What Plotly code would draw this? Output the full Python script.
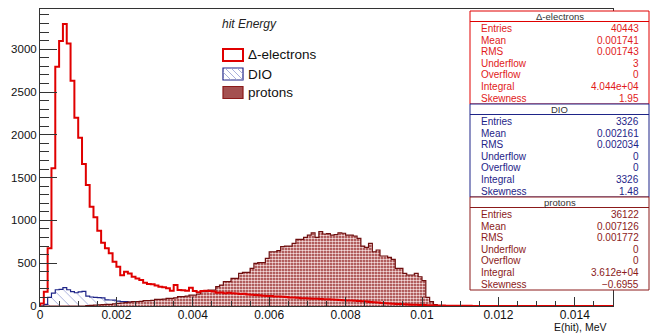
import numpy as np
import plotly.graph_objects as go

# ---------------- data ----------------
bin_width = 0.0001
n_bins = 150

electrons = [30, 167, 674, 1608, 2795, 3095, 3294, 3068, 2632, 2200,
             1966, 1659, 1413, 1160, 1036, 880, 740, 674, 615, 518,
             459, 360, 400, 380, 342, 320, 304, 272, 257, 253,
             240, 226, 218, 206, 179, 245, 187, 183, 179, 214,
             175, 160, 175, 179, 175, 170, 156, 158, 150, 154,
             148, 145, 140, 142, 135, 130, 128, 125, 120, 118,
             117, 112, 110, 108, 104, 100, 98, 95, 92, 90,
             88, 86, 84, 82, 80, 78, 75, 72, 70, 68,
             65, 63, 60, 58, 55, 52, 48, 45, 40, 36,
             32, 30, 27, 24, 22, 20, 18, 16, 14, 13,
             12, 10, 8, 7, 6, 5, 4, 4, 3, 3,
             2, 2, 2, 1, 1, 1, 0, 0, 0, 0,
             0, 0, 0, 0, 0, 0, 0, 0, 0, 0,
             0, 0, 0, 0, 0, 0, 0, 0, 0, 0,
             0, 0, 0, 0, 0, 0, 0, 0, 0, 0]

dio = [0, 20, 100, 150, 190, 195, 215, 190, 167, 155,
       165, 172, 115, 105, 100, 97, 95, 72, 70, 68,
       58, 52, 50, 45, 42, 40, 38, 36, 34, 32,
       30, 28, 27, 26, 24, 23, 22, 20, 19, 18,
       17, 16, 15, 14, 13, 12, 12, 11, 10, 10,
       9, 9, 8, 8, 7, 7, 6, 6, 6, 5,
       5, 5, 4, 4, 4, 4, 3, 3, 3, 3,
       3, 2, 2, 2, 2, 2, 2, 1, 1, 1,
       1, 1, 1, 1, 1, 1, 1, 1, 1, 1,
       1, 1, 1, 1, 1, 1, 1, 1, 1, 1,
       1, 0, 0, 0, 0, 0, 0, 0, 0, 0,
       0, 0, 0, 0, 0, 0, 0, 0, 0, 0,
       0, 0, 0, 0, 0, 0, 0, 0, 0, 0,
       0, 0, 0, 0, 0, 0, 0, 0, 0, 0,
       0, 0, 0, 0, 0, 0, 0, 0, 0, 0]

protons = [0, 0, 0, 0, 0, 0, 0, 0, 0, 0,
           0, 0, 5, 8, 10, 12, 15, 18, 20, 25,
           30, 35, 40, 45, 50, 50, 55, 62, 62, 65,
           78, 78, 80, 90, 90, 95, 109, 109, 115, 128,
           128, 140, 167, 167, 187, 187, 226, 245, 284, 284,
           323, 323, 381, 393, 393, 440, 498, 506, 506, 557,
           634, 634, 646, 693, 700, 700, 732, 779, 779, 802,
           829, 856, 802, 868, 841, 845, 829, 835, 856, 850,
           829, 829, 818, 791, 700, 685, 732, 634, 654, 584,
           584, 568, 545, 440, 440, 381, 362, 362, 381, 342,
           296, 101, 50, 15, 5, 0, 0, 0, 0, 0,
           0, 0, 0, 0, 0, 0, 0, 0, 0, 0,
           0, 0, 0, 0, 0, 0, 0, 0, 0, 0,
           0, 0, 0, 0, 0, 0, 0, 0, 0, 0,
           0, 0, 0, 0, 0, 0, 0, 0, 0, 0]

series_names = ["Δ-electrons", "DIO", "protons"]
stat_labels = ["Entries", "Mean", "RMS", "Underflow", "Overflow", "Integral", "Skewness"]
stats_electrons = ["40443", "0.001741", "0.001743", "3", "0", "4.044e+04", "1.95"]
stats_dio = ["3326", "0.002161", "0.002034", "0", "0", "3326", "1.48"]
stats_protons = ["36122", "0.007126", "0.001772", "0", "0", "3.612e+04", "\u22120.6955"]

x_range = [0, 0.015]
y_range = [0, 3470]

# ---------------- style ----------------
RED = "#e00000"
NAVY = "#1e2488"
DRED = "#8b1a1a"
FONT = "Liberation Sans"
W, H = 652, 333
L, R, T, B = 40, 613, 9, 306   # plot frame in pixels


def px(xp):
    return (xp - L) / (R - L)


def py(yp):
    return (B - yp) / (B - T)


edges = np.arange(n_bins + 1) * bin_width


def step(vals):
    v = np.asarray(vals, float)
    x = np.concatenate([[edges[0]], edges[:-1], [edges[-1], edges[-1]]])
    y = np.concatenate([[0.0], v, [v[-1], 0.0]])
    return x, y


fig = go.Figure()

xd, yd = step(dio)
fig.add_trace(go.Scatter(x=xd, y=yd, mode="lines", line=dict(color=NAVY, width=1.2, shape="hv"),
                         fill="tozeroy", fillcolor="white",
                         fillpattern=dict(shape="\\", fgcolor="#a9b0dc", bgcolor="white",
                                          size=7, solidity=0.14, fillmode="replace"),
                         name=series_names[1], showlegend=False, hoverinfo="skip"))

xp, yp = step(protons)
fig.add_trace(go.Scatter(x=xp, y=yp, mode="lines", line=dict(color="#6e0f0f", width=1.2, shape="hv"),
                         fill="tozeroy", fillcolor=DRED,
                         fillpattern=dict(shape=".", fgcolor="#f4dcdc", bgcolor="#962a2a",
                                          size=3, solidity=0.55, fillmode="replace"),
                         name=series_names[2], showlegend=False, hoverinfo="skip"))

xe, ye = step(electrons)
fig.add_trace(go.Scatter(x=xe, y=ye, mode="lines", line=dict(color=RED, width=2, shape="hv"),
                         name=series_names[0], showlegend=False, hoverinfo="skip"))

shapes = []
annotations = []

# ---------------- stats boxes ----------------
box_left, box_right = 470, 649
boxes = [(series_names[0], stats_electrons, RED, "#e11a1a", 11, 104),
         (series_names[1], stats_dio, NAVY, NAVY, 104, 197),
         (series_names[2], stats_protons, DRED, DRED, 197, 290)]
for title, vals, col, tcol, top, bot in boxes:
    shapes.append(dict(type="rect", xref="paper", yref="paper",
                       x0=px(box_left), x1=px(box_right), y0=py(bot), y1=py(top),
                       fillcolor="white", line=dict(color=col, width=1), layer="above"))
    shapes.append(dict(type="line", xref="paper", yref="paper",
                       x0=px(box_left), x1=px(box_right), y0=py(top + 10.5), y1=py(top + 10.5),
                       line=dict(color=col, width=1), layer="above"))
    annotations.append(dict(xref="paper", yref="paper", x=px((box_left + box_right) / 2),
                            y=py(top + 5.5), text=title, showarrow=False, xanchor="center",
                            yanchor="middle", font=dict(family=FONT, size=9.5, color="#333333")))
    for i, (lab, val) in enumerate(zip(stat_labels, vals)):
        yy = top + 17.5 + i * 11.6
        annotations.append(dict(xref="paper", yref="paper", x=px(479), y=py(yy), text=lab,
                                showarrow=False, xanchor="left", yanchor="middle",
                                font=dict(family=FONT, size=10, color=tcol)))
        annotations.append(dict(xref="paper", yref="paper", x=px(641), y=py(yy), text=val,
                                showarrow=False, xanchor="right", yanchor="middle",
                                font=dict(family=FONT, size=10, color=tcol)))

# ---------------- legend ----------------
annotations.append(dict(xref="paper", yref="paper", x=px(220), y=py(24), text="<i>hit Energy</i>",
                        showarrow=False, xanchor="left", yanchor="middle",
                        font=dict(family=FONT, size=12, color="#222222")))
leg_y = [55, 74, 92.5]
ix0, ix1 = 223, 243
for k, (name, yc) in enumerate(zip(series_names, leg_y)):
    y0, y1 = yc - 6, yc + 6
    if k == 0:
        shapes.append(dict(type="rect", xref="paper", yref="paper", x0=px(ix0), x1=px(ix1),
                           y0=py(y1), y1=py(y0), fillcolor="white",
                           line=dict(color=RED, width=2), layer="above"))
    elif k == 1:
        shapes.append(dict(type="rect", xref="paper", yref="paper", x0=px(ix0), x1=px(ix1),
                           y0=py(y1), y1=py(y0), fillcolor="white",
                           line=dict(color=NAVY, width=1.2), layer="above"))
        for off in range(-10, 20, 6):
            ax, ay = ix0 + off, y0
            bx, by = ax + (y1 - y0), y1
            if ax < ix0:
                ay = y0 + (ix0 - ax)
                ax = ix0
            if bx > ix1:
                by = y1 - (bx - ix1)
                bx = ix1
            if ay < by and ax < bx:
                shapes.append(dict(type="line", xref="paper", yref="paper",
                                   x0=px(ax + 0.5), y0=py(ay + 0.5), x1=px(bx - 0.5), y1=py(by - 0.5),
                                   line=dict(color="#a9b0dc", width=1), layer="above"))
    else:
        shapes.append(dict(type="rect", xref="paper", yref="paper", x0=px(ix0), x1=px(ix1),
                           y0=py(y1), y1=py(y0), fillcolor="#a45050",
                           line=dict(color=DRED, width=1.2), layer="above"))
    annotations.append(dict(xref="paper", yref="paper", x=px(246), y=py(yc), text=name,
                            showarrow=False, xanchor="left", yanchor="middle",
                            font=dict(family=FONT, size=13.5, color="#111111")))

# x axis title
annotations.append(dict(xref="paper", yref="paper", x=px(609), y=py(326.5), text="E(hit), MeV",
                        showarrow=False, xanchor="right", yanchor="middle",
                        font=dict(family=FONT, size=10.5, color="#111111")))

axis_common = dict(showgrid=False, zeroline=False, showline=True, linecolor="#333333", linewidth=1,
                   mirror=True, ticks="inside", tickcolor="#333333", tickwidth=1)

fig.update_layout(
    width=W, height=H, autosize=False,
    margin=dict(l=L, r=W - R, t=T, b=H - B, pad=0),
    paper_bgcolor="white", plot_bgcolor="white",
    showlegend=False,
    xaxis=dict(range=x_range, tick0=0, dtick=0.002, ticklen=9, ticklabelstandoff=-2,
               tickfont=dict(family=FONT, size=12, color="#111111"),
               minor=dict(ticks="inside", dtick=0.0005, ticklen=5, tickcolor="#333333", showgrid=False),
               **axis_common),
    yaxis=dict(range=y_range, tick0=0, dtick=500, ticklen=17,
               tickfont=dict(family=FONT, size=11.5, color="#111111"),
               minor=dict(ticks="inside", dtick=100, ticklen=9, tickcolor="#333333", showgrid=False),
               **axis_common),
    shapes=shapes, annotations=annotations,
)

fig.write_html("out.html")
